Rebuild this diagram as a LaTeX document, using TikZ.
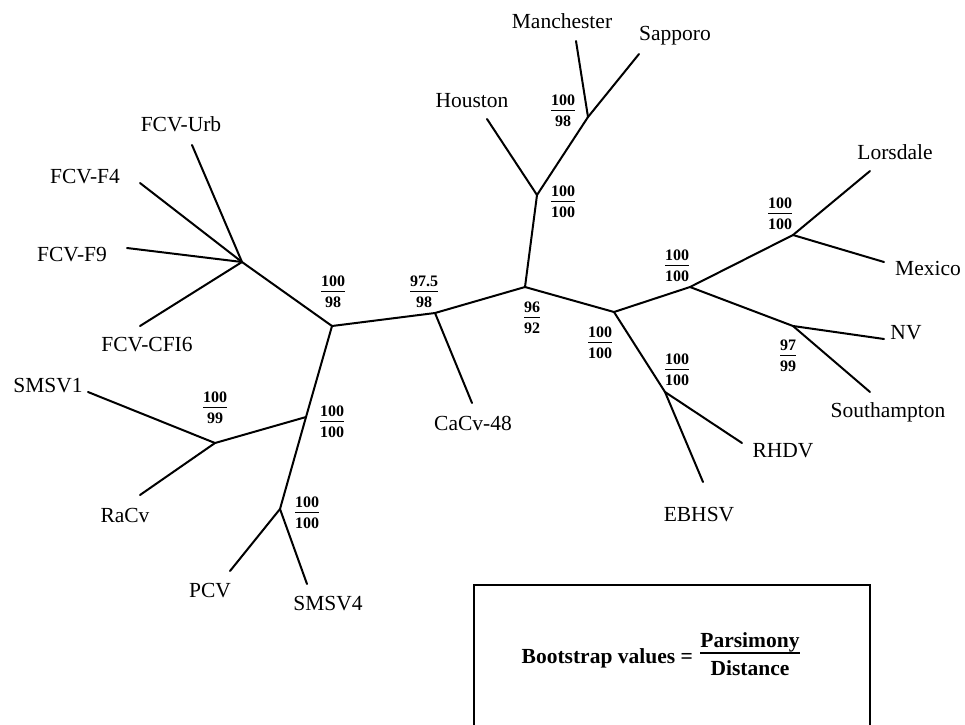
\documentclass[tikz,border=0pt]{standalone}
\usepackage{fontspec}
\setmainfont{Liberation Serif}
\newcommand\bsfrac[4]{%
  {\setbox0\hbox{#1}\setbox2\hbox{#2}%
  \vbox{\offinterlineskip\halign{\hfil##\hfil\cr\box0\cr\noalign{\kern#3}\leaders\hrule height 1.8pt\hfill\cr\noalign{\kern#4}\box2\cr}}}}
\begin{document}
\begin{tikzpicture}[x=1pt,y=-1pt,
  br/.style={line width=2pt,line cap=round},
  lab/.style={font=\fontsize{21.5}{24}\selectfont, inner sep=0pt, text height=14.2pt, text depth=0pt},
  bs/.style={font=\fontsize{16}{18}\selectfont\bfseries, inner sep=0pt},
  legend/.style={font=\fontsize{21.5}{24}\selectfont\bfseries, inner sep=0pt}]
\useasboundingbox (0,0) rectangle (965,724);
% internal nodes
\coordinate (F) at (242,262);
\coordinate (A) at (332,326);
\coordinate (C) at (435,313);
\coordinate (N) at (525,287);
\coordinate (H) at (537,195);
\coordinate (M) at (588,117);
\coordinate (R) at (614,312);
\coordinate (L1) at (690,287);
\coordinate (L2) at (793,235);
\coordinate (V) at (793,326);
\coordinate (E) at (665,392);
\coordinate (B) at (306,417);
\coordinate (S) at (215,443);
\coordinate (P) at (280,509);
% leaves
\coordinate (eUrb) at (192,145);
\coordinate (eF4) at (140,183);
\coordinate (eF9) at (127,248);
\coordinate (eCFI) at (140,326);
\coordinate (eSM1) at (88,392);
\coordinate (eRa) at (140,495);
\coordinate (ePCV) at (230,571);
\coordinate (eSM4) at (307,584);
\coordinate (eCa) at (472,403);
\coordinate (eHou) at (487,119);
\coordinate (eMan) at (576,41);
\coordinate (eSap) at (639,54);
\coordinate (eLor) at (870,171);
\coordinate (eMex) at (884,262);
\coordinate (eNV) at (884,339);
\coordinate (eSou) at (870,392);
\coordinate (eRH) at (742,443);
\coordinate (eEB) at (703,482);
% branches
\draw[br] (F) -- (A);
\draw[br] (A) -- (C);
\draw[br] (C) -- (N);
\draw[br] (N) -- (H);
\draw[br] (H) -- (M);
\draw[br] (N) -- (R);
\draw[br] (R) -- (L1);
\draw[br] (L1) -- (L2);
\draw[br] (L1) -- (V);
\draw[br] (R) -- (E);
\draw[br] (A) -- (B);
\draw[br] (B) -- (S);
\draw[br] (B) -- (P);
\draw[br] (F) -- (eUrb);
\draw[br] (F) -- (eF4);
\draw[br] (F) -- (eF9);
\draw[br] (F) -- (eCFI);
\draw[br] (S) -- (eSM1);
\draw[br] (S) -- (eRa);
\draw[br] (P) -- (ePCV);
\draw[br] (P) -- (eSM4);
\draw[br] (C) -- (eCa);
\draw[br] (H) -- (eHou);
\draw[br] (M) -- (eMan);
\draw[br] (M) -- (eSap);
\draw[br] (L2) -- (eLor);
\draw[br] (L2) -- (eMex);
\draw[br] (V) -- (eNV);
\draw[br] (V) -- (eSou);
\draw[br] (E) -- (eRH);
\draw[br] (E) -- (eEB);
% leaf labels
\node[lab] (tUrb) at (181,124.5) {FCV-Urb};
\node[lab] (tF4) at (85,176) {FCV-F4};
\node[lab] (tF9) at (72,254) {FCV-F9};
\node[lab] (tCFI) at (147,344) {FCV-CFI6};
\node[lab] (tSM1) at (48,385) {SMSV1};
\node[lab] (tRa) at (125,515) {RaCv};
\node[lab] (tPCV) at (210,590) {PCV};
\node[lab] (tSM4) at (328,603) {SMSV4};
\node[lab] (tCa) at (473,423) {CaCv-48};
\node[lab] (tHou) at (472,100) {Houston};
\node[lab] (tMan) at (562,21.5) {Manchester};
\node[lab] (tSap) at (675,33.5) {Sapporo};
\node[lab] (tLor) at (895,152) {Lorsdale};
\node[lab] (tMex) at (928,268) {Mexico};
\node[lab] (tNV) at (906,332) {NV};
\node[lab] (tSou) at (888,410) {Southampton};
\node[lab] (tRH) at (783,450) {RHDV};
\node[lab] (tEB) at (699,514) {EBHSV};
% bootstrap values
\node[bs] (bA) at (333,292) {\bsfrac{100}{98}{3.5pt}{4.5pt}};
\node[bs] (bC) at (424,292) {\bsfrac{97.5}{98}{3.5pt}{4.5pt}};
\node[bs] (bN) at (532,318) {\bsfrac{96}{92}{3.5pt}{4.5pt}};
\node[bs] (bR) at (600,343) {\bsfrac{100}{100}{3.5pt}{4.5pt}};
\node[bs] (bB) at (332,422) {\bsfrac{100}{100}{3.5pt}{4.5pt}};
\node[bs] (bS) at (215,408) {\bsfrac{100}{99}{3.5pt}{4.5pt}};
\node[bs] (bP) at (307,513) {\bsfrac{100}{100}{3.5pt}{4.5pt}};
\node[bs] (bM) at (563,111) {\bsfrac{100}{98}{3.5pt}{4.5pt}};
\node[bs] (bH) at (563,202) {\bsfrac{100}{100}{3.5pt}{4.5pt}};
\node[bs] (bL1) at (677,266) {\bsfrac{100}{100}{3.5pt}{4.5pt}};
\node[bs] (bL2) at (780,214) {\bsfrac{100}{100}{3.5pt}{4.5pt}};
\node[bs] (bV) at (788,356) {\bsfrac{97}{99}{3.5pt}{4.5pt}};
\node[bs] (bE) at (677,370) {\bsfrac{100}{100}{3.5pt}{4.5pt}};
% legend
\draw[line width=2pt] (474,730) -- (474,585) -- (870,585) -- (870,730);
\node[legend, anchor=base east] (lt) at (693,663) {Bootstrap values =};
\node[legend] (lf) at (750,654) {\bsfrac{Parsimony}{Distance}{0pt}{6pt}};
\end{tikzpicture}
\end{document}
